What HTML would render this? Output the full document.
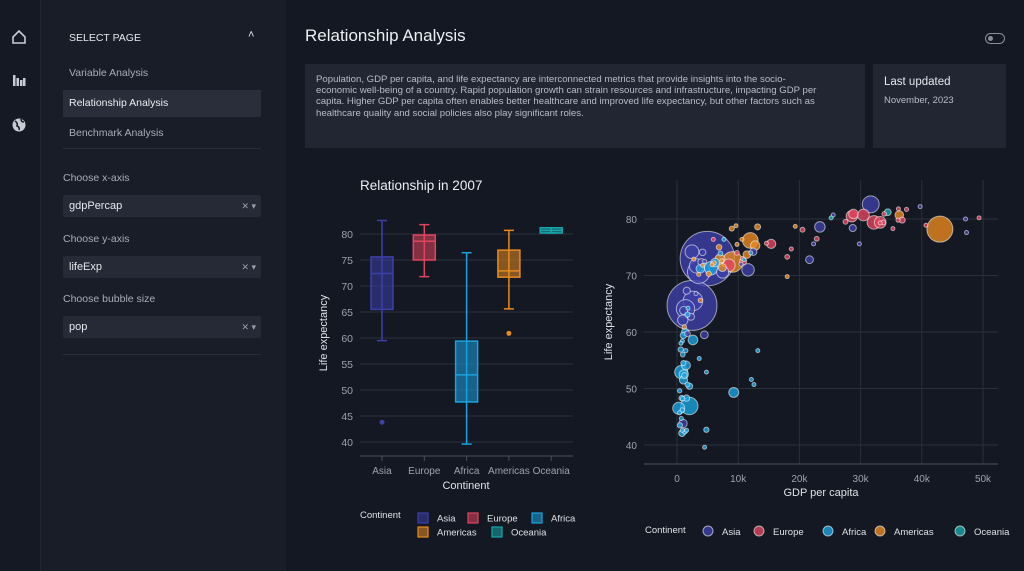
<!DOCTYPE html>
<html><head><meta charset="utf-8">
<style>
body{margin:0;width:1024px;height:571px;overflow:hidden;background:#141822;font-family:"Liberation Sans",sans-serif;position:relative}
.abs{position:absolute}
#iconbar{left:0;top:0;width:40px;height:571px;background:#151923;border-right:1px solid #232733}
#sidebar{left:41px;top:0;width:245px;height:571px;background:#191d28}
.nav{left:63px;width:198px;height:27px;line-height:27px;font-size:10.5px;color:#a9adb8;padding-left:6px;box-sizing:border-box}
.lbl{left:63px;font-size:10.5px;color:#a9adb8}
.dd{left:63px;width:198px;height:22px;background:#262a36;border-radius:2px;color:#e6e8ee;font-size:11px;line-height:22px;padding-left:6px;box-sizing:border-box}
.dd span{position:absolute;right:5px;top:0;color:#9a9ea8;font-size:9px}
.card{background:#222633}
</style></head><body>
<div id="iconbar" class="abs">
 <svg width="40" height="140">
  <path d="M13 37 L19 31 L25 37 V43 H13 Z" fill="none" stroke="#c9ccd4" stroke-width="1.6"/>
  <g fill="#c9ccd4"><rect x="13" y="75" width="2.5" height="11"/><rect x="16.5" y="78" width="2.5" height="8"/><rect x="20" y="80" width="2.5" height="6"/><rect x="23" y="78" width="2.5" height="8"/></g>
  <circle cx="19" cy="125" r="6.5" fill="#c9ccd4"/>
  <path d="M15 121 q3 2 2 5 q3 1 2 4 M21 119 q0 3 3 3" stroke="#151923" stroke-width="1.5" fill="none"/>
 </svg>
</div>
<div id="sidebar" class="abs"></div>
<div class="abs" style="left:69px;top:32px;font-size:10.5px;color:#e6e8ee">SELECT PAGE</div>
<div class="abs" style="left:248px;top:29px;font-size:11px;color:#e6e8ee">˄</div>
<div class="abs nav" style="top:60px">Variable Analysis</div>
<div class="abs nav" style="top:90px;background:#2a2e3a;color:#eceef3">Relationship Analysis</div>
<div class="abs nav" style="top:120px">Benchmark Analysis</div>
<div class="abs" style="left:63px;top:148px;width:198px;height:1px;background:#2a2e3a"></div>
<div class="abs lbl" style="top:172px">Choose x-axis</div>
<div class="abs dd" style="top:195px">gdpPercap<span>✕ ▾</span></div>
<div class="abs lbl" style="top:233px">Choose y-axis</div>
<div class="abs dd" style="top:256px">lifeExp<span>✕ ▾</span></div>
<div class="abs lbl" style="top:293px">Choose bubble size</div>
<div class="abs dd" style="top:316px">pop<span>✕ ▾</span></div>
<div class="abs" style="left:63px;top:354px;width:198px;height:1px;background:#2a2e3a"></div>

<div class="abs" style="left:305px;top:26px;font-size:17px;color:#eceef3">Relationship Analysis</div>
<div class="abs" style="left:985px;top:33px;width:20px;height:11px;border:1px solid #8a8e98;border-radius:7px;box-sizing:border-box"><div style="position:absolute;left:2px;top:2px;width:5px;height:5px;border-radius:50%;background:#8a8e98"></div></div>
<div class="abs card" style="left:305px;top:64px;width:560px;height:84px">
 <div style="position:absolute;left:11px;top:10px;width:545px;font-size:9.6px;line-height:11.2px;color:#b9bcc6;white-space:nowrap">Population, GDP per capita, and life expectancy are interconnected metrics that provide insights into the socio-<br>economic well-being of a country. Rapid population growth can strain resources and infrastructure, impacting GDP per<br>capita. Higher GDP per capita often enables better healthcare and improved life expectancy, but other factors such as<br>healthcare quality and social policies also play significant roles.</div>
</div>
<div class="abs card" style="left:873px;top:64px;width:133px;height:84px">
 <div style="position:absolute;left:11px;top:12px;font-size:11.5px;color:#e6e8ee">Last updated</div>
 <div style="position:absolute;left:11px;top:31px;font-size:9.5px;color:#b9bcc6">November, 2023</div>
</div>

<svg class="abs" style="left:0;top:0" width="1024" height="571" id="charts" font-family="Liberation Sans, sans-serif"></svg>

<script>
// Box plot data
const boxCats=["Asia","Europe","Africa","Americas","Oceania"];
const boxMin=[59.5,71.8,39.6,65.6,80.2];
const boxQ1=[65.5,75.0,47.7,71.7,80.2];
const boxMed=[72.4,78.6,52.9,72.9,80.7];
const boxQ3=[75.6,79.8,59.4,76.9,81.2];
const boxMax=[82.6,81.8,76.4,80.7,81.2];
const boxOutliers=[[43.8],[],[],[60.9],[]];
const boxTicks=[40,45,50,55,60,65,70,75,80];
// Scatter data (gapminder 2007)
const scGdp=[4959,2452,3541,31656,2606,1391,3190,2442,11606,7458,23348,944,975,1091,4471,12452,21655,28718,3970,1714,39725,47143,47307,25523,22316,29796,3096,2281,4185,4519,10461,1593,
32170,8458,30470,33203,28570,28821,15390,10808,36798,27538,20510,33693,22833,18009,33860,37506,49357,40676,10681,9787,5937,14619,18678,35278,33207,36126,36181,
42951,9066,11978,7006,12779,36319,7409,11416,13172,6873,5186,8948,1202,3822,6025,3548,4173,5728,2749,9645,10611,9809,7321,19329,18009,
2014,691,5581,278,9270,2602,1107,1463,3820,6223,1056,1328,824,1045,1545,2042,4797,759,619,1217,1043,470,1712,1271,1704,7093,863,943,926,430,1441,863,12057,883,12570,13206,12154,10957,4811,1569,4513,415,3633,641,706,1803,7670,
34435,25185];
const scLife=[73.0,64.7,70.6,82.6,65.5,64.1,71.7,74.2,71.0,70.6,78.6,62.1,43.8,63.8,59.5,74.2,72.8,78.4,72.4,59.7,82.2,80.0,77.6,80.7,75.6,75.6,66.8,62.7,74.1,72.5,72.0,67.3,
79.4,71.8,80.7,79.4,80.5,80.9,75.6,72.5,79.8,79.5,78.1,79.4,76.5,73.3,80.9,81.7,80.2,78.9,73.0,74.0,76.4,75.7,74.7,78.3,79.3,79.8,81.8,
78.2,72.4,76.2,72.9,75.3,80.7,71.4,73.7,78.6,75.0,70.3,78.3,60.9,65.6,72.2,70.2,71.8,71.9,72.9,78.8,76.4,75.5,72.6,78.7,69.8,
46.9,52.9,71.3,46.5,49.3,58.6,52.5,54.1,71.2,72.3,51.5,60.0,42.1,59.4,48.3,50.4,42.7,48.3,56.9,52.3,54.5,43.5,63.1,42.4,50.7,73.9,46.2,56.0,48.2,49.6,56.7,42.6,74.0,58.4,50.7,56.7,51.6,72.8,52.9,42.6,39.6,45.7,55.3,58.0,44.7,64.2,76.4,
81.2,80.2];
const scPop=[1318,1110,224,127,169,150,91,85,69,65,49,48,32,29,27,24,27,23,20,14,7,4.5,2.5,6.4,3.2,0.7,2.9,22,19,6,4,23,
82,71,61,61,58,40,38,22,16,10.7,10.6,10.4,10.2,10,9,7.5,4.6,4.1,7.3,10,3.6,4.5,5.4,5.5,5.2,8.2,0.3,
301,190,109,44,40,33,28,26,16,13.8,12.6,11.4,8.5,9.1,9.3,7.5,6.7,6.9,5.7,4.1,3.4,3.2,2.8,4,1.1,
135,77,80,64,44,42,38,35,33,33,29,23,20,19,18,17.7,12.4,13.3,12.9,14.3,12,12.3,12.3,11.7,10.2,10.3,8.9,9.9,9.1,8.4,8.1,6.1,6,5.7,1.6,1.5,0.55,1.25,2.05,2,1.1,3.2,3.8,4.9,4.4,3.3,0.8,
20.4,4.1];
const scCont=[].concat(Array(32).fill("Asia"),Array(27).fill("Europe"),Array(25).fill("Americas"),Array(47).fill("Africa"),Array(2).fill("Oceania"));
const xTicks=[0,10000,20000,30000,40000,50000];
const xTickLabels=["0","10k","20k","30k","40k","50k"];
const yTicks=[40,50,60,70,80];

const colors={Asia:"#3d40a8",Europe:"#e0455f",Africa:"#1aa3de",Americas:"#e88a1f",Oceania:"#16a6ab"};
const NS="http://www.w3.org/2000/svg";
const svg=document.getElementById('charts');
function mk(tag,attrs,parent,text){const e=document.createElementNS(NS,tag);for(const k in attrs)e.setAttribute(k,attrs[k]);if(text!==undefined)e.textContent=text;(parent||svg).appendChild(e);return e;}

// ---- Box plot
const by=v=>234+(80-v)*5.2;
const bx=i=>382+i*42.3;
const g1=mk('g',{});


const t1=mk('text',{x:360,y:190,fill:'#eceef3','font-size':13.5},g1,'Relationship in 2007');


boxTicks.forEach(v=>{
 const l=mk('line',{x1:360,x2:573,y1:by(v),y2:by(v),stroke:'#2a2f3c','stroke-width':1},g1);
 
 
 const t=mk('text',{x:353,y:by(v)+4,fill:'#9ea2ad','font-size':10.5,'text-anchor':'end'},g1,String(v));
 
 
});
mk('line',{x1:360,x2:573,y1:456,y2:456,stroke:'#4a4f5c'},g1);
boxCats.forEach((c,i)=>{
 const x=bx(i),col=colors[c],w=11;
 mk('line',{x1:x,x2:x,y1:by(boxMax[i]),y2:by(boxMin[i]),stroke:col,'stroke-width':1.5},g1);
 mk('line',{x1:x-5,x2:x+5,y1:by(boxMax[i]),y2:by(boxMax[i]),stroke:col,'stroke-width':1.5},g1);
 mk('line',{x1:x-5,x2:x+5,y1:by(boxMin[i]),y2:by(boxMin[i]),stroke:col,'stroke-width':1.5},g1);
 const r=mk('rect',{x:x-w,y:by(boxQ3[i]),width:2*w,height:Math.max(2,by(boxQ1[i])-by(boxQ3[i])),fill:col,'fill-opacity':0.55,stroke:col,'stroke-width':1.5},g1);
 
 
 mk('line',{x1:x-w,x2:x+w,y1:by(boxMed[i]),y2:by(boxMed[i]),stroke:col,'stroke-width':1.5},g1);
 boxOutliers[i].forEach(o=>{
  const p=mk('circle',{cx:x,cy:by(o),r:2.5,fill:col},g1);
  
  
 });
 mk('line',{x1:x,x2:x,y1:456,y2:461,stroke:'#4a4f5c'},g1);
 const t=mk('text',{x:x,y:474,fill:'#9ea2ad','font-size':10,'text-anchor':'middle'},g1,c);
 
 
});
const bxl=mk('text',{x:466,y:489,fill:'#dfe1e7','font-size':11,'text-anchor':'middle'},g1,'Continent');


const byl=mk('text',{x:0,y:0,fill:'#dfe1e7','font-size':11,'text-anchor':'middle',transform:'translate(327,333) rotate(-90)'},g1,'Life expectancy');


// box legend
mk('text',{x:360,y:518,fill:'#dfe1e7','font-size':9.5},g1,'Continent');
const bl=[[418,513,"Asia"],[468,513,"Europe"],[532,513,"Africa"],[418,527,"Americas"],[492,527,"Oceania"]];
bl.forEach(([x,y,c])=>{
 const r=mk('rect',{x:x,y:y,width:10,height:10,fill:colors[c],'fill-opacity':0.55,stroke:colors[c],'stroke-width':1.2},g1);
 
 
 mk('text',{x:x+19,y:y+8.5,fill:'#dfe1e7','font-size':9.5},g1,c);
});

// ---- Scatter
const sx=v=>677+v*0.00612;
const sy=v=>219+(80-v)*5.65;
const g2=mk('g',{});


xTicks.forEach((v,i)=>{
 mk('line',{x1:sx(v),x2:sx(v),y1:180,y2:464,stroke:'#2a2f3c'},g2);
 const t=mk('text',{x:sx(v),y:482,fill:'#9ea2ad','font-size':10,'text-anchor':'middle'},g2,xTickLabels[i]);
 
 
});
yTicks.forEach(v=>{
 mk('line',{x1:644,x2:998,y1:sy(v),y2:sy(v),stroke:'#2a2f3c'},g2);
 const t=mk('text',{x:637,y:sy(v)+4,fill:'#9ea2ad','font-size':10,'text-anchor':'end'},g2,String(v));
 
 
});
mk('line',{x1:644,x2:998,y1:464,y2:464,stroke:'#4a4f5c'},g2);
const order=scGdp.map((_,i)=>i).sort((a,b)=>scPop[b]-scPop[a]);
order.forEach(i=>{
 const c=mk('circle',{cx:sx(scGdp[i]),cy:sy(scLife[i]),r:Math.max(2,0.75*Math.sqrt(scPop[i])),fill:colors[scCont[i]],'fill-opacity':0.8,stroke:'rgba(255,255,255,0.55)','stroke-width':1},g2);
 
 
});
const sxl=mk('text',{x:821,y:496,fill:'#dfe1e7','font-size':11,'text-anchor':'middle'},g2,'GDP per capita');


const syl=mk('text',{x:0,y:0,fill:'#dfe1e7','font-size':11,'text-anchor':'middle',transform:'translate(612,322) rotate(-90)'},g2,'Life expectancy');


mk('text',{x:645,y:533,fill:'#dfe1e7','font-size':9.5},g2,'Continent');
const sl=[[708,"Asia"],[759,"Europe"],[828,"Africa"],[880,"Americas"],[960,"Oceania"]];
sl.forEach(([x,c])=>{
 const r=mk('circle',{cx:x,cy:531,r:5,fill:colors[c],'fill-opacity':0.8,stroke:'rgba(255,255,255,0.6)'},g2);
 
 
 mk('text',{x:x+14,y:535,fill:'#dfe1e7','font-size':9.5},g2,c);
});
</script>
</body></html>
